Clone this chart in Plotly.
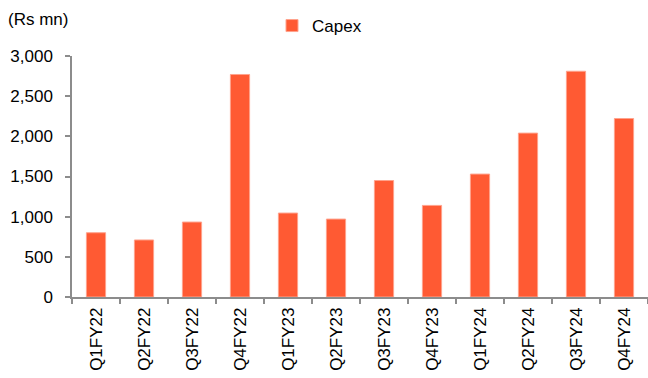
import plotly.graph_objects as go

categories = ["Q1FY22", "Q2FY22", "Q3FY22", "Q4FY22", "Q1FY23", "Q2FY23",
              "Q3FY23", "Q4FY23", "Q1FY24", "Q2FY24", "Q3FY24", "Q4FY24"]
capex = [800, 710, 933, 2770, 1045, 970, 1450, 1140, 1530, 2040, 2810, 2222]
y_ticks = [0, 500, 1000, 1500, 2000, 2500, 3000]
y_tick_labels = ["0", "500", "1,000", "1,500", "2,000", "2,500", "3,000"]

W, H = 648, 378
L, R, T, B = 72, 0, 56, 81

fig = go.Figure()
fig.add_trace(go.Bar(
    x=categories, y=capex, name="Capex",
    marker=dict(color="#FF5A33", line=dict(color="#FFA28C", width=1)),
    width=0.4,
))

axis_color = "#8C8C8C"
FS = 17
fig.update_layout(
    width=W, height=H,
    margin=dict(l=L, r=R, t=T, b=B, autoexpand=False),
    paper_bgcolor="white", plot_bgcolor="white",
    font=dict(family="Liberation Sans, Arial, sans-serif", size=FS, color="#000000"),
    showlegend=True,
    legend=dict(orientation="h", x=(272 - L) / (W - L - R), xanchor="left",
                y=1 + (T - 8) / (H - T - B), yanchor="top",
                font=dict(size=FS), bgcolor="rgba(0,0,0,0)",
                itemwidth=30),
    bargap=0.6,
    xaxis=dict(
        type="category", tickangle=-90, tickson="boundaries",
        showline=True, linecolor=axis_color, linewidth=1.5,
        ticks="outside", ticklen=5, tickcolor=axis_color, tickwidth=1.5,
        showgrid=False, automargin=False, tickfont=dict(size=FS),
        ticklabelstandoff=2,
    ),
    yaxis=dict(
        range=[0, 3000], tickvals=y_ticks, ticktext=y_tick_labels,
        showline=True, linecolor=axis_color, linewidth=1.5,
        ticks="outside", ticklen=5, tickcolor=axis_color, tickwidth=1.5,
        showgrid=False, zeroline=False, automargin=False, tickfont=dict(size=FS),
        ticklabelstandoff=9,
    ),
    annotations=[dict(
        text="(Rs mn)", xref="paper", yref="paper",
        x=-(L - 6) / (W - L - R), xanchor="left",
        y=1 + (T - 19) / (H - T - B), yanchor="middle",
        showarrow=False, font=dict(size=FS),
    )],
)

fig.write_html("out.html")
